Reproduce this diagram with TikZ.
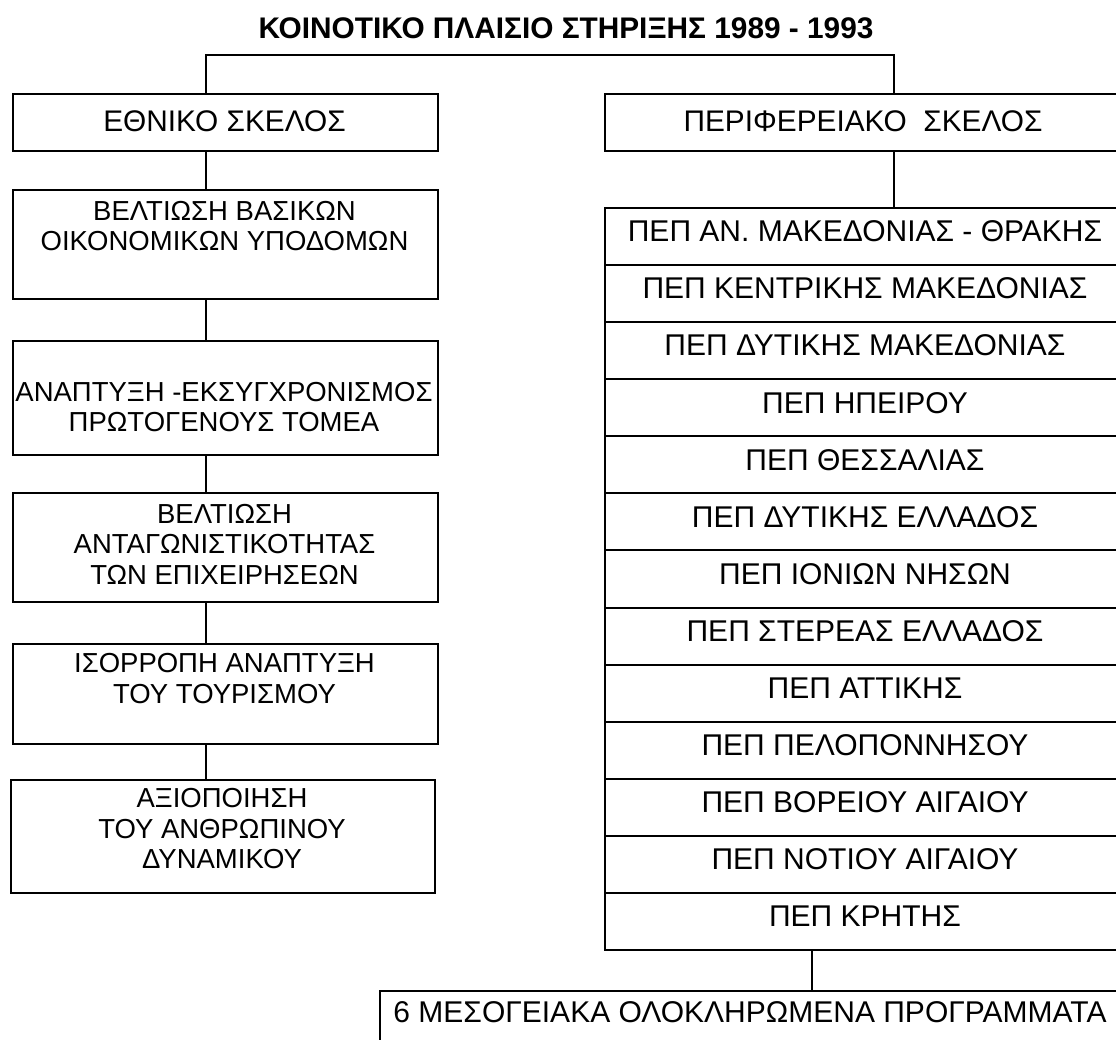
\documentclass[tikz,border=0pt]{standalone}
\usepackage{fontspec}
\setmainfont{Liberation Sans}
\usetikzlibrary{calc}
\begin{document}
\begin{tikzpicture}[x=1pt,y=-1pt,
  frame/.style={draw, line width=2pt, inner sep=0pt, anchor=north west},
  lbl/.style={font=\fontsize{27.5}{30.5}\selectfont, align=center, inner sep=0pt},
  hlbl/.style={font=\fontsize{29.8}{31}\selectfont, inner sep=0pt},
  rlbl/.style={font=\fontsize{30}{31}\selectfont, inner sep=0pt},
  conn/.style={line width=1.8pt}]
\useasboundingbox (0,0) rectangle (1116,1040);
\node[font=\bfseries\fontsize{29.8}{31}\selectfont, inner sep=0pt] (title) at (566,28) {ΚΟΙΝΟΤΙΚΟ ΠΛΑΙΣΙΟ ΣΤΗΡΙΞΗΣ 1989 - 1993};

% left column
\node[frame, minimum width=425pt, minimum height=57pt] (eth) at (12,93) {};
\node[frame, minimum width=425pt, minimum height=109pt] (b2) at (12,189) {};
\node[frame, minimum width=425pt, minimum height=114pt] (b3) at (12,340) {};
\node[frame, minimum width=425pt, minimum height=109pt] (b4) at (12,492) {};
\node[frame, minimum width=425pt, minimum height=100pt] (b5) at (12,643) {};
\node[frame, minimum width=424pt, minimum height=113pt] (b6) at (10,779) {};

\node[hlbl] (teth) at (224.5,121.5) {ΕΘΝΙΚΟ ΣΚΕΛΟΣ};
\node[lbl] (tb2) at (224.5,226) {ΒΕΛΤΙΩΣΗ ΒΑΣΙΚΩΝ\\ΟΙΚΟΝΟΜΙΚΩΝ ΥΠΟΔΟΜΩΝ};
\node[lbl] (tb3) at (224,407) {ΑΝΑΠΤΥΞΗ -ΕΚΣΥΓΧΡΟΝΙΣΜΟΣ\\ΠΡΩΤΟΓΕΝΟΥΣ ΤΟΜΕΑ};
\node[lbl] (tb4) at (224.5,544) {ΒΕΛΤΙΩΣΗ\\ΑΝΤΑΓΩΝΙΣΤΙΚΟΤΗΤΑΣ\\ΤΩΝ ΕΠΙΧΕΙΡΗΣΕΩΝ};
\node[lbl] (tb5) at (224.5,678.5) {ΙΣΟΡΡΟΠΗ ΑΝΑΠΤΥΞΗ\\ΤΟΥ ΤΟΥΡΙΣΜΟΥ};
\node[lbl] (tb6) at (222,829) {ΑΞΙΟΠΟΙΗΣΗ\\ΤΟΥ ΑΝΘΡΩΠΙΝΟΥ\\ΔΥΝΑΜΙΚΟΥ};

% right column
\node[frame, minimum width=520pt, minimum height=57pt] (perif) at (604,93) {};
\node[hlbl] (tperif) at (863,121) {ΠΕΡΙΦΕΡΕΙΑΚΟ\ \ ΣΚΕΛΟΣ};

\foreach \t [count=\i] in {ΠΕΠ ΑΝ. ΜΑΚΕΔΟΝΙΑΣ - ΘΡΑΚΗΣ, ΠΕΠ ΚΕΝΤΡΙΚΗΣ ΜΑΚΕΔΟΝΙΑΣ, ΠΕΠ ΔΥΤΙΚΗΣ ΜΑΚΕΔΟΝΙΑΣ, ΠΕΠ ΗΠΕΙΡΟΥ, ΠΕΠ ΘΕΣΣΑΛΙΑΣ, ΠΕΠ ΔΥΤΙΚΗΣ ΕΛΛΑΔΟΣ, ΠΕΠ ΙΟΝΙΩΝ ΝΗΣΩΝ, ΠΕΠ ΣΤΕΡΕΑΣ ΕΛΛΑΔΟΣ, ΠΕΠ ΑΤΤΙΚΗΣ, ΠΕΠ ΠΕΛΟΠΟΝΝΗΣΟΥ, ΠΕΠ ΒΟΡΕΙΟΥ ΑΙΓΑΙΟΥ, ΠΕΠ ΝΟΤΙΟΥ ΑΙΓΑΙΟΥ, ΠΕΠ ΚΡΗΤΗΣ} {
  \node[frame, minimum width=520pt, minimum height=57.08pt] (r\i) at (604,{207+(\i-1)*57.08}) {};
  \node[rlbl] (rt\i) at (865,{231.5+(\i-1)*57.08}) {\t};
}

\node[frame, minimum width=760pt, minimum height=80pt] (med) at (379,990) {};
\node[rlbl] (tmed) at (750,1012) {6 ΜΕΣΟΓΕΙΑΚΑ ΟΛΟΚΛΗΡΩΜΕΝΑ ΠΡΟΓΡΑΜΜΑΤΑ};

% connectors
\coordinate (jL) at (206,0);
\coordinate (jR) at (894,0);
\coordinate (jB) at (812,0);
\coordinate (tl) at (206,55);
\draw[conn] (eth.north -| jL) -- (tl) -| (perif.north -| jR);
\draw[conn] (eth.south -| jL) -- (b2.north -| jL);
\draw[conn] (b2.south -| jL) -- (b3.north -| jL);
\draw[conn] (b3.south -| jL) -- (b4.north -| jL);
\draw[conn] (b4.south -| jL) -- (b5.north -| jL);
\draw[conn] (b5.south -| jL) -- (b6.north -| jL);
\draw[conn] (perif.south -| jR) -- (r1.north -| jR);
\draw[conn] (r13.south -| jB) -- (med.north -| jB);
\end{tikzpicture}
\end{document}
